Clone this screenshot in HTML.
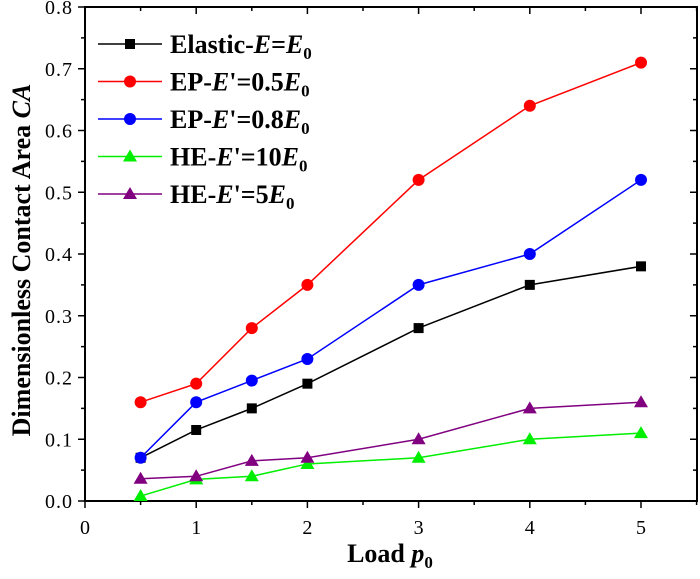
<!DOCTYPE html>
<html><head><meta charset="utf-8"><style>
body{margin:0;background:#fff}
svg text{font-family:"Liberation Serif",serif}
</style></head><body>
<svg id="c" width="700" height="574" xmlns="http://www.w3.org/2000/svg"></svg>
<script>
const xValues=[0.5,1,1.5,2,3,4,5];
const elastic=[0.07,0.115,0.15,0.19,0.28,0.35,0.38];
const ep05=[0.16,0.19,0.28,0.35,0.52,0.64,0.71];
const ep08=[0.07,0.16,0.195,0.23,0.35,0.40,0.52];
const he10=[0.008,0.035,0.04,0.06,0.07,0.10,0.11];
const he5=[0.036,0.04,0.065,0.07,0.10,0.15,0.16];
const xTicks=[0,1,2,3,4,5];
const yTicks=["0.0","0.1","0.2","0.3","0.4","0.5","0.6","0.7","0.8"];
const NS="http://www.w3.org/2000/svg";
const svg=document.getElementById('c');
const L=85,R=697,T=7,B=501;
const X=v=>L+v*111.2;
const Y=v=>B-v*617.5;
function mk(t,a,p){const e=document.createElementNS(NS,t);for(const k in a)e.setAttribute(k,a[k]);(p||svg).appendChild(e);return e;}
const frame=mk('rect',{x:L,y:T,width:R-L,height:B-T,fill:'none',stroke:'#000','stroke-width':2});


for(let v=0;v<=5.5;v+=0.5){
  const major=Math.abs(v-Math.round(v))<1e-9;
  const len=major?7:4;
  const t1=mk('line',{x1:X(v),x2:X(v),y1:B,y2:B+len,stroke:'#000','stroke-width':1.5});
  
  
  const t2=mk('line',{x1:X(v),x2:X(v),y1:T,y2:T+len,stroke:'#000','stroke-width':1.5});
  
  
}
xTicks.forEach(v=>{
  const t=mk('text',{x:X(v),y:B+33,'text-anchor':'middle','font-size':20});
  t.textContent=v;
  
  
});
for(let i=0;i<=16;i++){
  const v=i*0.05,len=i%2==0?7:4;
  const t1=mk('line',{x1:L-len,x2:L,y1:Y(v),y2:Y(v),stroke:'#000','stroke-width':1.5});
  
  
  const t2=mk('line',{x1:R-len,x2:R,y1:Y(v),y2:Y(v),stroke:'#000','stroke-width':1.5});
  
  
}
yTicks.forEach((s,i)=>{
  const t=mk('text',{x:L-12,y:Y(i*0.1)+7,'text-anchor':'end','font-size':20,'letter-spacing':1});
  t.textContent=s;
  
  
});
const xt=mk('text',{x:390,y:562,'text-anchor':'middle','font-size':26,'font-weight':'bold'});
xt.innerHTML='Load <tspan font-style="italic">p</tspan><tspan font-size="17" dy="6">0</tspan>';


const yt=mk('text',{transform:'translate(30,260) rotate(-90)','text-anchor':'middle','font-size':26,'font-weight':'bold'});
yt.innerHTML='Dimensionless Contact Area <tspan font-style="italic">CA</tspan>';


function marker(g,type,x,y,c){
  if(type==='s')mk('rect',{x:x-5,y:y-5,width:10,height:10,fill:c},g);
  else if(type==='c')mk('circle',{cx:x,cy:y,r:6,fill:c},g);
  else mk('polygon',{points:`${x},${y-7} ${x-7},${y+5} ${x+7},${y+5}`,fill:c},g);
}
const series=[
 {name:'elastic',vals:elastic,c:'#000',m:'s',label:'Elastic-<tspan font-style="italic">E</tspan>=<tspan font-style="italic">E</tspan><tspan font-size="17" dy="6">0</tspan>'},
 {name:'ep-05',vals:ep05,c:'#ff0000',m:'c',label:'EP-<tspan font-style="italic">E</tspan>\'=0.5<tspan font-style="italic">E</tspan><tspan font-size="17" dy="6">0</tspan>'},
 {name:'ep-08',vals:ep08,c:'#0000ff',m:'c',label:'EP-<tspan font-style="italic">E</tspan>\'=0.8<tspan font-style="italic">E</tspan><tspan font-size="17" dy="6">0</tspan>'},
 {name:'he-10',vals:he10,c:'#00ee00',m:'t',label:'HE-<tspan font-style="italic">E</tspan>\'=10<tspan font-style="italic">E</tspan><tspan font-size="17" dy="6">0</tspan>'},
 {name:'he-5',vals:he5,c:'#800080',m:'t',label:'HE-<tspan font-style="italic">E</tspan>\'=5<tspan font-style="italic">E</tspan><tspan font-size="17" dy="6">0</tspan>'}
];
series.forEach((s,i)=>{
  const g=mk('g',{});
  
  
  mk('polyline',{points:xValues.map((x,j)=>X(x)+','+Y(s.vals[j])).join(' '),fill:'none',stroke:s.c,'stroke-width':1.5},g);
  xValues.forEach((x,j)=>marker(g,s.m,X(x),Y(s.vals[j]),s.c));
  const ly=44+i*37.5;
  const lg=mk('g',{});
  
  
  mk('line',{x1:98,x2:162,y1:ly,y2:ly,stroke:s.c,'stroke-width':1.5},lg);
  marker(lg,s.m,130,ly,s.c);
  const t=mk('text',{x:170,y:ly+9,'font-size':26,'font-weight':'bold'},lg);
  t.innerHTML=s.label;
});
</script>
</body></html>
